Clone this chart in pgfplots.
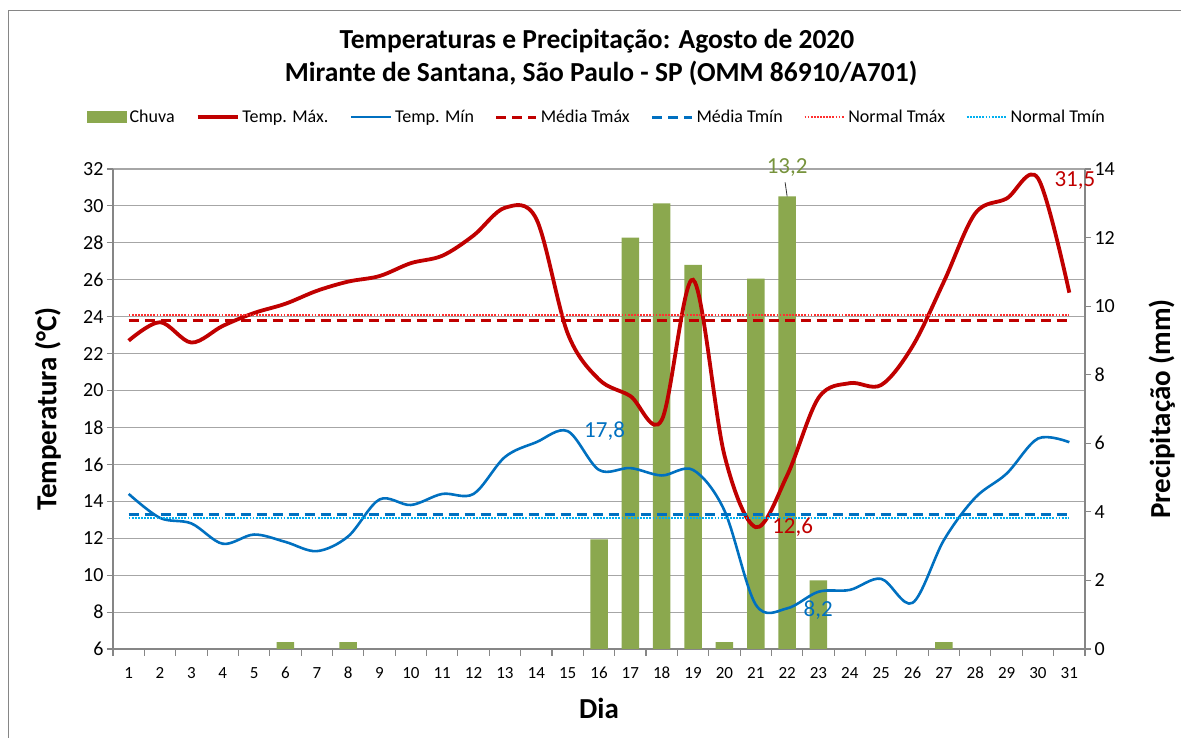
\documentclass[border=0pt]{standalone}
\usepackage{fontspec}
\setmainfont{Carlito}[Numbers=Lining]
\usepackage{pgfplots}
\pgfplotsset{compat=1.18}
\definecolor{tmax}{HTML}{C00000}
\definecolor{tmin}{HTML}{0070C0}
\definecolor{chuva}{HTML}{8BA84E}
\definecolor{chuvalab}{HTML}{77933C}
\definecolor{nmax}{HTML}{FF3030}
\definecolor{nmin}{HTML}{00B0F0}
\definecolor{axgray}{HTML}{868686}
\definecolor{grdgray}{HTML}{A6A6A6}
\pgfplotsset{
  base/.style={
    at={(113pt,89pt)}, anchor=south west, scale only axis,
    width=972pt, height=480pt, xmin=0.5, xmax=31.5,
    /pgf/number format/assume math mode=true,
    axis line style={draw=axgray, line width=1.1pt},
    tick style={draw=axgray, line width=1.1pt},
    tick align=outside, major tick length=6pt,
  }
}
\begin{document}
\begin{tikzpicture}[x=1pt,y=1pt]
\useasboundingbox (0,0) rectangle (1181,738);
\draw[color=axgray, line width=1.2pt] (8.3,0) -- (8.3,727.5) -- (1181,727.5);
\node[font=\fontsize{27.5}{30}\selectfont\bfseries, anchor=base] at (597,689) {Temperaturas e Precipitação: Agosto de 2020};
\node[font=\fontsize{27.5}{30}\selectfont\bfseries, anchor=base] at (601,656) {Mirante de Santana, São Paulo - SP (OMM 86910/A701)};

% axis 1: temperature grid, left axis, x axis
\begin{axis}[base,
  ymin=6, ymax=32, ytick={6,8,...,32},
  axis y line*=left, axis x line*=bottom,
  ymajorgrids, grid style={draw=grdgray, line width=1.1pt},
  xtick={1,...,31}, major x tick style={draw=none},
  minor xtick={0.5,1.5,...,31.5}, minor tick length=7pt,
  minor x tick style={draw=axgray, line width=1.1pt},
  yticklabel style={font=\fontsize{20}{22}\selectfont},
  xticklabel style={font=\fontsize{17}{19}\selectfont, text height=11.5pt, text depth=0pt, yshift=-8pt},
  xlabel={Dia}, ylabel={Temperatura (°C)},
  xlabel style={font=\fontsize{29}{31}\selectfont\bfseries, at={(axis description cs:0.5,-0.123)}, anchor=center},
  ylabel style={font=\fontsize{29}{31}\selectfont\bfseries, at={(axis description cs:-0.067,0.5)}, anchor=center},
]
\end{axis}

% axis 2: precipitation bars, right axis
\begin{axis}[base,
  ymin=0, ymax=14, ytick={0,2,...,14},
  axis y line*=right, axis x line=none, clip=false,
  yticklabel style={font=\fontsize{20}{22}\selectfont},
  ylabel={Precipitação (mm)},
  ylabel style={font=\fontsize{29}{31}\selectfont\bfseries, at={(axis description cs:1.079,0.5)}, anchor=center},
]
\addplot[ybar, bar width=17.5pt, fill=chuva, draw=none] coordinates {
 (6,0.2) (8,0.2) (16,3.2) (17,12.0) (18,13.0) (19,11.2) (20,0.2) (21,10.8) (22,13.2) (23,2.0) (27,0.2)};
\draw[black!80, line width=0.8pt] (axis cs:22,13.2) -- ++(-2pt,14pt);
\node[font=\fontsize{23}{25}\selectfont, text=chuvalab] at (axis cs:22,13.2) [yshift=29pt] {13,2};
\end{axis}

% axis 3: temperature lines and legend
\begin{axis}[base,
  ymin=6, ymax=32, hide axis, clip=false,
  legend style={at={(0.498,1.108)}, anchor=center, draw=none, fill=none,
    legend columns=7, font=\fontsize{18}{20}\selectfont, inner sep=0pt,
    /tikz/every even column/.append style={column sep=19pt},
    /tikz/every odd column/.append style={column sep=1pt}},
  legend cell align=left,
  legend image code/.code={\draw[#1] (0pt,0pt) -- (40pt,0pt);},
]
\addlegendimage{legend image code/.code={\fill[chuva] (0pt,-5.5pt) rectangle (39pt,5.5pt);}}
\addlegendentry{Chuva}
\addplot[tmax, line width=3.8pt, smooth, tension=0.55] coordinates {
 (1,22.7) (2,23.7) (3,22.6) (4,23.5) (5,24.2) (6,24.7) (7,25.4) (8,25.9) (9,26.2) (10,26.9)
 (11,27.3) (12,28.4) (13,29.9) (14,29.3) (15,23.1) (16,20.6) (17,19.7) (18,18.4) (19,26.0) (20,16.5)
 (21,12.6) (22,15.4) (23,19.6) (24,20.4) (25,20.3) (26,22.4) (27,25.9) (28,29.6) (29,30.4) (30,31.5) (31,25.3)};
\addlegendentry{Temp. Máx.}
\addplot[tmin, line width=2.6pt, smooth, tension=0.55] coordinates {
 (1,14.4) (2,13.1) (3,12.8) (4,11.7) (5,12.2) (6,11.8) (7,11.3) (8,12.1) (9,14.1) (10,13.8)
 (11,14.4) (12,14.4) (13,16.4) (14,17.2) (15,17.8) (16,15.7) (17,15.8) (18,15.4) (19,15.7) (20,13.5)
 (21,8.4) (22,8.2) (23,9.1) (24,9.2) (25,9.8) (26,8.5) (27,11.9) (28,14.2) (29,15.5) (30,17.4) (31,17.2)};
\addlegendentry{Temp. Mín}
\addplot[tmax, line width=2.8pt, dash pattern=on 10pt off 6pt] coordinates {(1,23.8) (31,23.8)};
\addlegendentry{Média Tmáx}
\addplot[tmin, line width=2.8pt, dash pattern=on 10pt off 6pt] coordinates {(1,13.3) (31,13.3)};
\addlegendentry{Média Tmín}
\addplot[nmax, line width=1.5pt, dash pattern=on 1.8pt off 1.3pt] coordinates {(1,24.1) (31,24.1)};
\addlegendentry{Normal Tmáx}
\addplot[nmin, line width=1.5pt, dash pattern=on 1.8pt off 1.3pt] coordinates {(1,13.1) (31,13.1)};
\addlegendentry{Normal Tmín}
\node[font=\fontsize{23}{25}\selectfont, text=tmin, anchor=west] at (axis cs:15,17.8) [xshift=13pt] {17,8};
\node[font=\fontsize{23}{25}\selectfont, text=tmax, anchor=west] at (axis cs:21,12.6) [xshift=13pt] {12,6};
\node[font=\fontsize{23}{25}\selectfont, text=tmin, anchor=west] at (axis cs:22,8.2) [xshift=13pt, yshift=-2pt] {8,2};
\node[font=\fontsize{23}{25}\selectfont, text=tmax, anchor=west] at (axis cs:30,31.5) [xshift=13pt, yshift=-2pt] {31,5};
\end{axis}
\end{tikzpicture}
\end{document}
